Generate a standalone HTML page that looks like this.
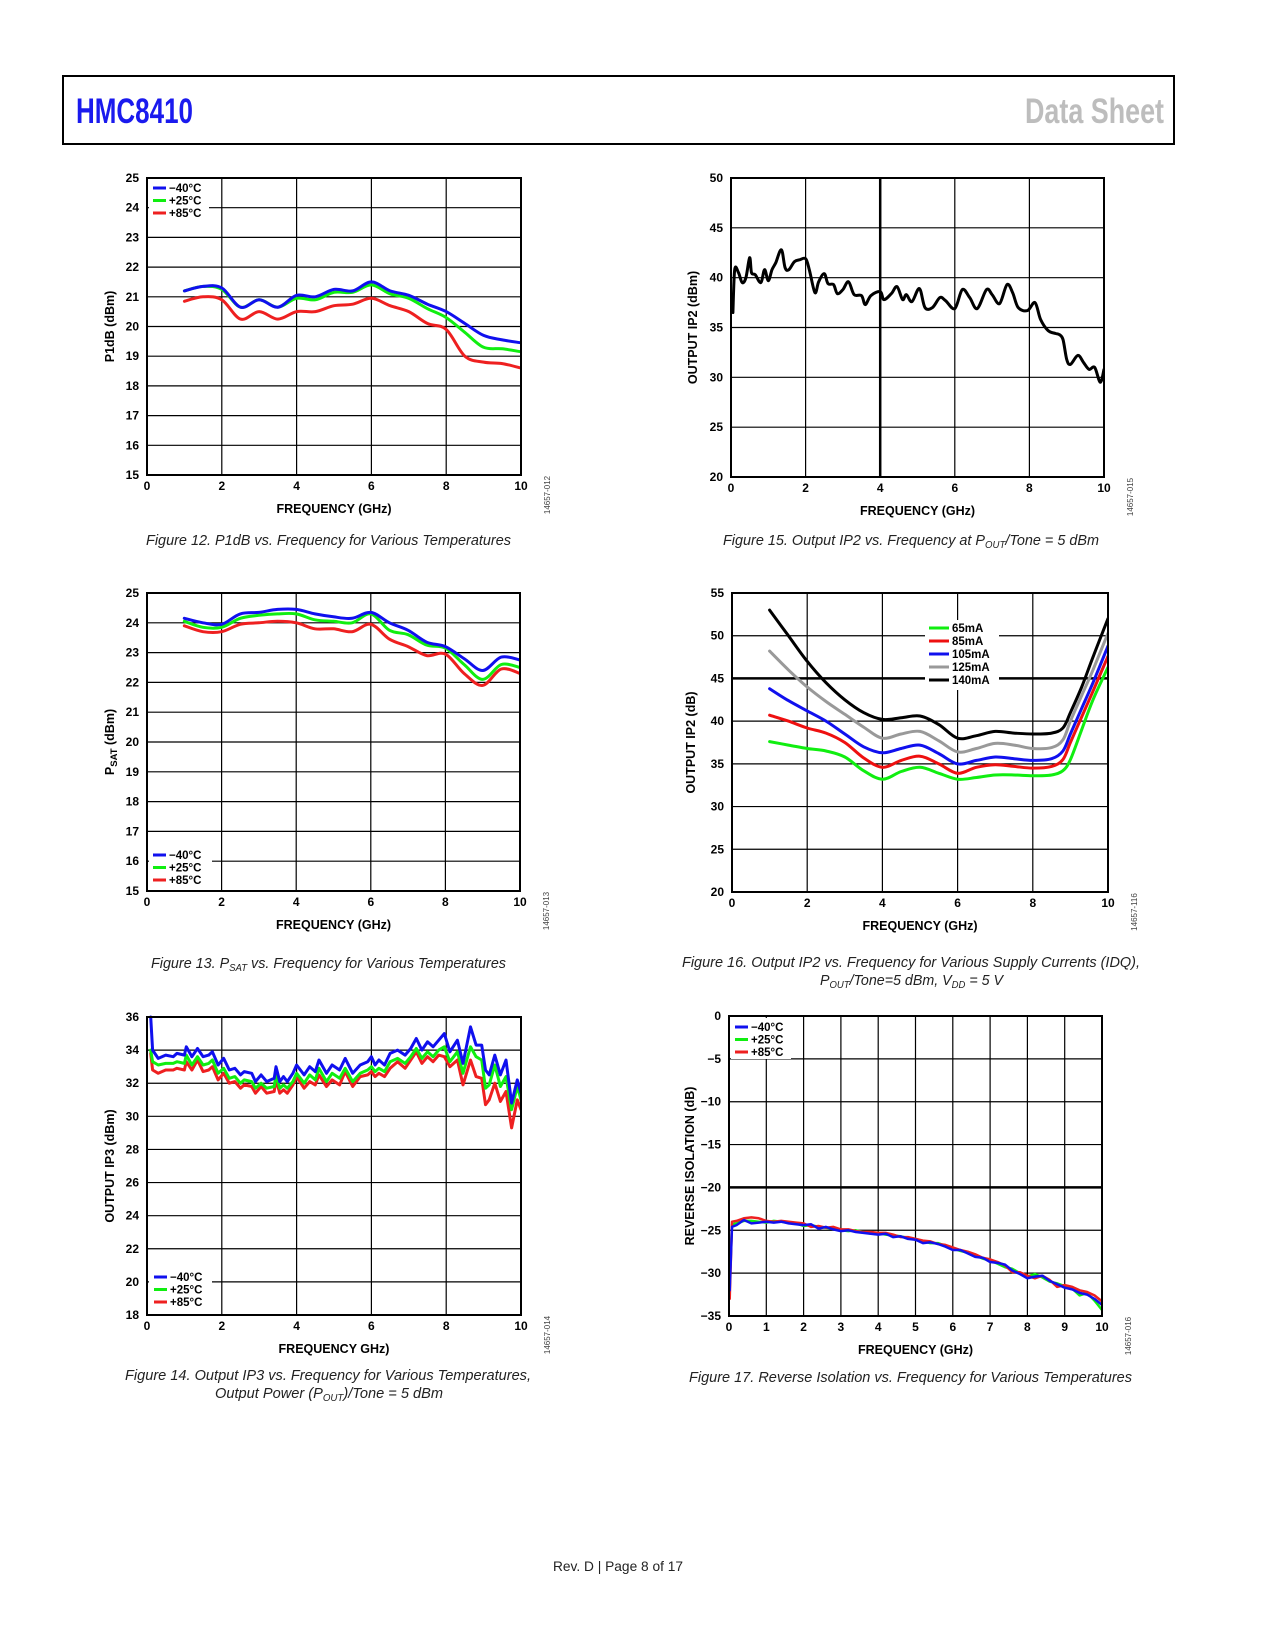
<!DOCTYPE html>
<html><head><meta charset="utf-8"><title>HMC8410 Data Sheet p8</title>
<style>
html,body{margin:0;padding:0;background:#fff;}
svg{display:block;}
text{font-family:"Liberation Sans",sans-serif;}
</style></head>
<body>
<svg id="page" xmlns="http://www.w3.org/2000/svg" width="1275" height="1650" viewBox="0 0 1275 1650">
<rect x="63" y="76" width="1111" height="68" fill="none" stroke="#000" stroke-width="2"/>
<text x="76" y="123" font-size="35" font-weight="bold" fill="#1a1aee" textLength="117" lengthAdjust="spacingAndGlyphs">HMC8410</text>
<text x="1025" y="123" font-size="35" font-weight="bold" fill="#bdbdbd" textLength="139" lengthAdjust="spacingAndGlyphs">Data Sheet</text>
<text x="553" y="1571" font-size="14" fill="#222" textLength="130" lengthAdjust="spacingAndGlyphs">Rev. D | Page 8 of 17</text>
</svg>
<script>
// ---------- DATA ----------
// Fig 12 P1dB
const p1dbFreq = [1,1.5,2,2.5,3,3.5,4,4.5,5,5.5,6,6.5,7,7.5,8,8.5,9,9.5,10];
const p1dbM40 = [21.2,21.35,21.3,20.65,20.9,20.65,21.05,21.0,21.25,21.2,21.5,21.2,21.05,20.75,20.5,20.1,19.7,19.55,19.45];
const p1dbP25 = [21.2,21.35,21.25,20.65,20.9,20.65,20.95,20.9,21.15,21.15,21.4,21.1,20.95,20.6,20.3,19.8,19.3,19.25,19.15];
const p1dbP85 = [20.85,21.0,20.9,20.25,20.5,20.25,20.5,20.5,20.7,20.75,20.95,20.7,20.5,20.1,19.9,19.0,18.8,18.75,18.6];
// Fig 13 PSAT
const psatFreq = [1,1.5,2,2.5,3,3.5,4,4.5,5,5.5,6,6.5,7,7.5,8,8.5,9,9.5,10];
const psatM40 = [24.15,24.0,23.95,24.3,24.35,24.45,24.45,24.3,24.2,24.15,24.35,24.0,23.75,23.35,23.2,22.8,22.4,22.85,22.75];
const psatP25 = [24.05,23.85,23.85,24.15,24.25,24.3,24.3,24.1,24.05,24.0,24.3,23.75,23.6,23.25,23.15,22.6,22.1,22.6,22.5];
const psatP85 = [23.9,23.7,23.7,23.95,24.0,24.05,24.0,23.8,23.8,23.7,23.95,23.45,23.2,22.9,22.95,22.3,21.9,22.45,22.3];
// Fig 15 Output IP2
const oip2Freq = [0.05,0.1,0.2,0.3,0.4,0.5,0.55,0.65,0.8,0.9,1.0,1.1,1.2,1.35,1.45,1.55,1.7,1.85,2.0,2.1,2.25,2.35,2.5,2.6,2.75,2.85,3.0,3.15,3.3,3.5,3.6,3.75,4.0,4.1,4.3,4.45,4.6,4.7,4.85,5.05,5.2,5.4,5.6,5.75,6.0,6.2,6.4,6.6,6.85,7.0,7.2,7.4,7.55,7.7,7.95,8.15,8.3,8.5,8.7,8.8,8.9,9.0,9.1,9.3,9.45,9.6,9.75,9.9,10];
const oip2Vals = [36.5,40.8,40.5,39.5,40,42,40.5,40.3,39.5,40.8,39.7,40.8,41.5,42.8,41,40.8,41.6,41.8,41.9,40.8,38.5,39.6,40.4,39.4,39.3,38.4,38.8,39.6,38.3,38.2,37.3,38.2,38.6,37.8,38.4,39.1,37.8,38.3,37.6,38.9,37,37,38,37.7,36.9,38.8,38,36.9,38.8,38.3,37.4,39.3,38.5,37,36.7,37.5,35.8,34.7,34.4,34.3,33.8,31.8,31.3,32.2,31.5,30.8,31,29.5,30.8];
// Fig 16 IP2 vs IDQ
const idqFreq = [1,1.5,2,2.5,3,3.5,4,4.5,5,5.5,6,6.5,7,7.5,8,8.5,8.8,9,9.3,9.6,10];
const idq65 = [37.6,37.2,36.8,36.5,35.8,34.2,33.2,34.1,34.6,33.9,33.2,33.4,33.7,33.7,33.6,33.7,34.2,35.5,39,42.5,46.3];
const idq85 = [40.7,40,39.2,38.6,37.5,35.7,34.6,35.4,35.9,35.0,33.9,34.6,34.9,34.7,34.5,34.7,35.5,37.5,40.5,43.5,47.6];
const idq105 = [43.8,42.4,41.2,40,38.5,37,36.3,36.8,37.2,36.2,35,35.4,35.8,35.6,35.4,35.6,36.5,38.5,41.5,44.5,48.8];
const idq125 = [48.2,46,44,42.3,40.8,39.3,38,38.5,38.8,37.7,36.4,36.8,37.4,37.2,36.8,36.9,37.8,40,43,46,50.3];
const idq140 = [53,50,47,44.5,42.5,41,40.2,40.4,40.6,39.6,38,38.3,38.8,38.6,38.5,38.6,39.2,41,44,47.5,52];
// Fig 14 Output IP3
const oip3Freq = [0.1,0.15,0.3,0.5,0.7,0.8,1.0,1.05,1.2,1.35,1.5,1.65,1.75,1.9,2.05,2.2,2.35,2.5,2.6,2.8,2.9,3.05,3.2,3.4,3.45,3.55,3.65,3.75,3.9,4.0,4.2,4.35,4.5,4.6,4.8,4.95,5.15,5.3,5.5,5.7,5.9,6.0,6.1,6.2,6.35,6.5,6.7,6.9,7.05,7.2,7.35,7.5,7.65,7.8,7.95,8.1,8.3,8.45,8.65,8.8,8.95,9.05,9.15,9.3,9.45,9.6,9.75,9.9,10];
const oip3M40 = [36,34,33.5,33.7,33.6,33.8,33.7,34.2,33.6,34.1,33.6,33.7,33.9,33.1,33.5,32.8,32.9,32.5,32.7,32.6,32.1,32.5,32.1,32.3,33,32.1,32.4,32.1,32.6,33.1,32.5,33,32.7,33.4,32.6,33.1,32.8,33.5,32.6,33.1,33.3,33.6,33.1,33.4,33.1,33.8,34,33.7,34.1,34.7,34,34.5,34.2,34.6,35,33.9,34.6,33.2,35.4,34.3,34.3,32.8,32.5,33.7,32.5,33.4,30.8,32.2,31.4];
const oip3P25 = [34,33.3,33.1,33.2,33.2,33.3,33.2,33.7,33.1,33.6,33.1,33.2,33.4,32.6,32.9,32.3,32.4,32.0,32.2,32.1,31.7,32.0,31.7,31.8,32.5,31.7,31.9,31.7,32.1,32.6,32.0,32.5,32.2,32.9,32.1,32.6,32.3,32.9,32.1,32.6,32.8,33.0,32.7,32.9,32.7,33.3,33.5,33.2,33.6,34.1,33.5,33.9,33.6,34.0,34.2,33.3,33.9,32.6,34.2,33.6,33.4,31.7,31.9,33.1,31.8,32.4,30.4,31.8,31.0];
const oip3P85 = [33.8,32.8,32.6,32.8,32.8,32.9,32.8,33.3,32.8,33.4,32.7,32.8,33.0,32.2,32.6,32.0,32.1,31.7,31.9,31.8,31.4,31.8,31.4,31.5,32.2,31.4,31.6,31.4,31.9,32.4,31.7,32.1,31.9,32.5,31.8,32.2,31.9,32.7,31.8,32.4,32.5,32.7,32.4,32.6,32.4,32.9,33.3,32.9,33.4,33.9,33.2,33.6,33.3,33.7,33.6,33.0,33.4,31.9,33.4,32.4,32.3,30.7,31.0,32.0,30.9,31.5,29.3,31.0,30.4];
// Fig 17 Reverse isolation
const risoFreq = [0.02,0.08,0.2,0.4,0.6,0.8,1.0,1.2,1.4,1.6,1.8,2.0,2.2,2.4,2.6,2.8,3.0,3.2,3.4,3.6,3.8,4.0,4.2,4.4,4.6,4.8,5.0,5.2,5.4,5.6,5.8,6.0,6.2,6.4,6.6,6.8,7.0,7.2,7.4,7.6,7.8,8.0,8.2,8.4,8.6,8.8,9.0,9.2,9.4,9.6,9.8,10];
const risoM40 = [-32,-24.6,-24.4,-23.8,-24.2,-24.1,-24.0,-24.1,-24.0,-24.2,-24.3,-24.4,-24.3,-24.8,-24.6,-24.9,-25.1,-25.0,-25.2,-25.3,-25.4,-25.5,-25.4,-25.8,-25.7,-26.0,-26.1,-26.5,-26.4,-26.6,-26.9,-27.3,-27.3,-27.7,-28.1,-28.2,-28.7,-28.8,-29.0,-29.7,-30.1,-30.6,-30.4,-30.3,-30.9,-31.3,-31.7,-31.9,-32.3,-32.5,-33.0,-33.7];
const risoP25 = [-31,-24.3,-24.2,-23.9,-23.9,-24.0,-24.1,-23.9,-24.0,-24.1,-24.2,-24.5,-24.4,-24.6,-24.7,-24.8,-25.0,-25.1,-25.0,-25.2,-25.4,-25.3,-25.5,-25.6,-25.7,-25.9,-26.0,-26.3,-26.5,-26.5,-26.8,-27.1,-27.4,-27.6,-27.9,-28.3,-28.5,-28.9,-29.3,-29.5,-30.0,-30.4,-30.1,-30.5,-31.0,-31.2,-31.5,-31.8,-32.6,-32.3,-33.2,-34.3];
const risoP85 = [-33,-24.0,-23.9,-23.6,-23.5,-23.6,-23.9,-24.0,-23.9,-24.0,-24.1,-24.2,-24.6,-24.5,-24.7,-24.6,-24.9,-24.9,-25.1,-25.2,-25.2,-25.3,-25.3,-25.5,-25.8,-25.8,-26.0,-26.2,-26.3,-26.6,-26.7,-27.0,-27.3,-27.5,-27.8,-28.2,-28.4,-28.7,-29.1,-29.9,-29.9,-30.3,-30.6,-30.3,-30.8,-31.6,-31.4,-31.6,-32.0,-32.2,-32.6,-33.3];

// ---------- RENDER ----------
const NS = 'http://www.w3.org/2000/svg';
const svg = document.getElementById('page');
function mk(tag, attrs, parent) {
  const e = document.createElementNS(NS, tag);
  for (const k in attrs) e.setAttribute(k, attrs[k]);
  (parent || svg).appendChild(e);
  return e;
}
function smoothPath(pts) {
  let d = 'M' + pts[0][0].toFixed(1) + ',' + pts[0][1].toFixed(1);
  for (let i = 0; i < pts.length - 1; i++) {
    const p0 = pts[i - 1] || pts[i], p1 = pts[i], p2 = pts[i + 1], p3 = pts[i + 2] || p2;
    const c1x = p1[0] + (p2[0] - p0[0]) / 6, c1y = p1[1] + (p2[1] - p0[1]) / 6;
    const c2x = p2[0] - (p3[0] - p1[0]) / 6, c2y = p2[1] - (p3[1] - p1[1]) / 6;
    d += ' C' + c1x.toFixed(1) + ',' + c1y.toFixed(1) + ' ' + c2x.toFixed(1) + ',' + c2y.toFixed(1) + ' ' + p2[0].toFixed(1) + ',' + p2[1].toFixed(1);
  }
  return d;
}
function linePath(pts) {
  return pts.map((p, i) => (i ? 'L' : 'M') + p[0].toFixed(1) + ',' + p[1].toFixed(1)).join(' ');
}

function drawChart(c) {
  const g = mk('g', {});
  
  
  const sx = v => c.x0 + (v - c.xmin) / (c.xmax - c.xmin) * (c.x1 - c.x0);
  const sy = v => c.y1 - (v - c.ymin) / (c.ymax - c.ymin) * (c.y1 - c.y0);
  for (const t of c.xTicks) {
    const l = mk('line', {x1: sx(t), x2: sx(t), y1: c.y0, y2: c.y1, stroke: '#000', 'stroke-width': (c.thickX === t ? 2.5 : 1.2)}, g);
    
    
    const tx = mk('text', {x: sx(t), y: c.y1 + 15, 'font-size': 12, 'font-weight': 'bold', 'text-anchor': 'middle'}, g);
    tx.textContent = String(t);
    
    
  }
  c.yTicks.forEach((t, i) => {
    const l = mk('line', {x1: c.x0, x2: c.x1, y1: sy(t), y2: sy(t), stroke: '#000', 'stroke-width': (c.thickY === t ? 2.5 : 1.2)}, g);
    
    
    const tx = mk('text', {x: c.x0 - 8, y: sy(t) + 4, 'font-size': 12, 'font-weight': 'bold', 'text-anchor': 'end'}, g);
    tx.textContent = c.yLabels[i];
    
    
  });
  const clip = mk('clipPath', {id: 'clip-' + c.name}, g);
  mk('rect', {x: c.x0, y: c.y0 - 2, width: c.x1 - c.x0, height: c.y1 - c.y0 + 4}, clip);
  const order = c.drawOrder || c.series.map((s, i) => i);
  for (const idx of order) {
    const s = c.series[idx];
    const pts = s.x.map((xv, i) => [sx(xv), sy(s.y[i])]);
    const p = mk('path', {d: c.smooth ? smoothPath(pts) : linePath(pts), fill: 'none', stroke: s.color, 'stroke-width': c.lw, 'stroke-linejoin': 'round', 'stroke-linecap': 'round', 'clip-path': 'url(#clip-' + c.name + ')'}, g);
    
    
  }
  const fr = mk('rect', {x: c.x0, y: c.y0, width: c.x1 - c.x0, height: c.y1 - c.y0, fill: 'none', stroke: '#000', 'stroke-width': 2}, g);
  
  
  if (c.legend) {
    const L = c.legend;
    const bg = mk('rect', {x: L.bx, y: L.by, width: L.bw, height: L.bh, fill: '#fff'}, g);
    
    
    c.series.forEach((s, i) => {
      const yy = L.y + i * L.dy;
      const ln = mk('line', {x1: L.x, x2: L.x + L.len, y1: yy, y2: yy, stroke: s.color, 'stroke-width': 3}, g);
      
      
      const t = mk('text', {x: L.x + L.len + 3, y: yy + 4, 'font-size': 11.5, 'font-weight': 'bold'}, g);
      t.textContent = s.label;
      
      
    });
  }
  const xt = mk('text', {x: (c.x0 + c.x1) / 2, y: c.y1 + 38, 'font-size': 12.5, 'font-weight': 'bold', 'text-anchor': 'middle'}, g);
  xt.textContent = c.xTitle;
  
  
  const yt = mk('text', {x: 0, y: 0, 'font-size': 12.5, 'font-weight': 'bold', 'text-anchor': 'middle', transform: 'translate(' + c.yTitleX + ',' + (c.y0 + c.y1) / 2 + ') rotate(-90)'}, g);
  yt.innerHTML = c.yTitle;
  
  
  const code = mk('text', {x: 0, y: 0, 'font-size': 8, fill: '#444', 'text-anchor': 'middle', transform: 'translate(' + (c.x1 + 29) + ',' + (c.y1 + 20) + ') rotate(-90)'}, g);
  code.textContent = c.code;
  
  
  c.caption.forEach(cp => {
    const t = mk('text', {x: cp.x, y: cp.y, 'font-size': 15, 'font-style': 'italic', fill: '#222', textLength: cp.w, lengthAdjust: 'spacingAndGlyphs'}, g);
    t.innerHTML = cp.html;
    
    
  });
}
const rng = (a, b, s) => { const r = []; for (let v = a; v <= b + 1e-9; v += s) r.push(Math.round(v * 100) / 100); return r; };
const temps = (xs, a, b, c) => [
  {name: 'series-minus40c', label: '\u221240\u00b0C', color: '#1010ee', x: xs, y: a},
  {name: 'series-plus25c', label: '+25\u00b0C', color: '#10ee10', x: xs, y: b},
  {name: 'series-plus85c', label: '+85\u00b0C', color: '#ee2020', x: xs, y: c}];
const tempOrder = [2, 1, 0];

drawChart({name: 'chart-p1db', x0: 147, x1: 521, y0: 178, y1: 475, xmin: 0, xmax: 10, ymin: 15, ymax: 25,
  xTicks: rng(0, 10, 2), yTicks: rng(15, 25, 1), yLabels: rng(15, 25, 1).map(String), smooth: true, lw: 3,
  series: temps(p1dbFreq, p1dbM40, p1dbP25, p1dbP85), drawOrder: tempOrder,
  legend: {bx: 149, by: 180, bw: 60, bh: 38, x: 153, len: 13, y: 188, dy: 12.5},
  xTitle: 'FREQUENCY (GHz)', yTitle: 'P1dB (dBm)', yTitleX: 114, code: '14657-012',
  caption: [{x: 146, y: 545, w: 365, html: 'Figure 12. P1dB vs. Frequency for Various Temperatures'}]});

drawChart({name: 'chart-output-ip2', x0: 731, x1: 1104, y0: 178, y1: 477, xmin: 0, xmax: 10, ymin: 20, ymax: 50,
  xTicks: rng(0, 10, 2), yTicks: rng(20, 50, 5), yLabels: rng(20, 50, 5).map(String), smooth: true, lw: 3, thickX: 4,
  series: [{name: 'series-output-ip2', label: '', color: '#000', x: oip2Freq, y: oip2Vals}],
  xTitle: 'FREQUENCY (GHz)', yTitle: 'OUTPUT IP2 (dBm)', yTitleX: 697, code: '14657-015',
  caption: [{x: 723, y: 545, w: 376, html: 'Figure 15. Output IP2 vs. Frequency at P<tspan font-size="10" dy="3">OUT</tspan><tspan dy="-3">/Tone = 5 dBm</tspan>'}]});

drawChart({name: 'chart-psat', x0: 147, x1: 520, y0: 593, y1: 891, xmin: 0, xmax: 10, ymin: 15, ymax: 25,
  xTicks: rng(0, 10, 2), yTicks: rng(15, 25, 1), yLabels: rng(15, 25, 1).map(String), smooth: true, lw: 3,
  series: temps(psatFreq, psatM40, psatP25, psatP85), drawOrder: tempOrder,
  legend: {bx: 149, by: 848, bw: 63, bh: 41, x: 153, len: 13, y: 855, dy: 12.5},
  xTitle: 'FREQUENCY (GHz)', yTitle: 'P<tspan font-size="9.5" dy="3">SAT</tspan><tspan dy="-3"> (dBm)</tspan>', yTitleX: 114, code: '14657-013',
  caption: [{x: 151, y: 968, w: 355, html: 'Figure 13. P<tspan font-size="10" dy="3">SAT</tspan><tspan dy="-3"> vs. Frequency for Various Temperatures</tspan>'}]});

drawChart({name: 'chart-ip2-vs-idq', x0: 732, x1: 1108, y0: 593, y1: 892, xmin: 0, xmax: 10, ymin: 20, ymax: 55,
  xTicks: rng(0, 10, 2), yTicks: rng(20, 55, 5), yLabels: rng(20, 55, 5).map(String), smooth: true, lw: 3, thickY: 45,
  series: [
    {name: 'series-65ma', label: '65mA', color: '#10ee10', x: idqFreq, y: idq65},
    {name: 'series-85ma', label: '85mA', color: '#ee1010', x: idqFreq, y: idq85},
    {name: 'series-105ma', label: '105mA', color: '#1010ee', x: idqFreq, y: idq105},
    {name: 'series-125ma', label: '125mA', color: '#999', x: idqFreq, y: idq125},
    {name: 'series-140ma', label: '140mA', color: '#000', x: idqFreq, y: idq140}],
  legend: {bx: 925, by: 620, bw: 74, bh: 70, x: 929, len: 20, y: 628, dy: 13},
  xTitle: 'FREQUENCY (GHz)', yTitle: 'OUTPUT IP2 (dB)', yTitleX: 695, code: '14657-116',
  caption: [{x: 682, y: 967, w: 458, html: 'Figure 16. Output IP2 vs. Frequency for Various Supply Currents (IDQ),'},
            {x: 820, y: 985, w: 183, html: 'P<tspan font-size="10" dy="3">OUT</tspan><tspan dy="-3">/Tone=5 dBm, V</tspan><tspan font-size="10" dy="3">DD</tspan><tspan dy="-3"> = 5 V</tspan>'}]});

drawChart({name: 'chart-output-ip3', x0: 147, x1: 521, y0: 1017, y1: 1315, xmin: 0, xmax: 10, ymin: 18, ymax: 36,
  xTicks: rng(0, 10, 2), yTicks: rng(18, 36, 2), yLabels: rng(18, 36, 2).map(String), smooth: false, lw: 3,
  series: temps(oip3Freq, oip3M40, oip3P25, oip3P85), drawOrder: tempOrder,
  legend: {bx: 149, by: 1268, bw: 63, bh: 45, x: 154, len: 13, y: 1277, dy: 12.5},
  xTitle: 'FREQUENCY GHz)', yTitle: 'OUTPUT IP3 (dBm)', yTitleX: 114, code: '14657-014',
  caption: [{x: 125, y: 1380, w: 406, html: 'Figure 14. Output IP3 vs. Frequency for Various Temperatures,'},
            {x: 215, y: 1398, w: 228, html: 'Output Power (P<tspan font-size="10" dy="3">OUT</tspan><tspan dy="-3">)/Tone = 5 dBm</tspan>'}]});

drawChart({name: 'chart-reverse-isolation', x0: 729, x1: 1102, y0: 1016, y1: 1316, xmin: 0, xmax: 10, ymin: -35, ymax: 0,
  xTicks: rng(0, 10, 1), yTicks: rng(-35, 0, 5), yLabels: rng(-35, 0, 5).map(v => v < 0 ? '\u2212' + (-v) : String(v)), smooth: false, lw: 2.5, thickY: -20,
  series: temps(risoFreq, risoM40, risoP25, risoP85), drawOrder: [1, 2, 0],
  legend: {bx: 731, by: 1018, bw: 60, bh: 41, x: 735, len: 13, y: 1027, dy: 12.5},
  xTitle: 'FREQUENCY (GHz)', yTitle: 'REVERSE ISOLATION (dB)', yTitleX: 694, code: '14657-016',
  caption: [{x: 689, y: 1382, w: 443, html: 'Figure 17. Reverse Isolation vs. Frequency for Various Temperatures'}]});
</script>
</body></html>
